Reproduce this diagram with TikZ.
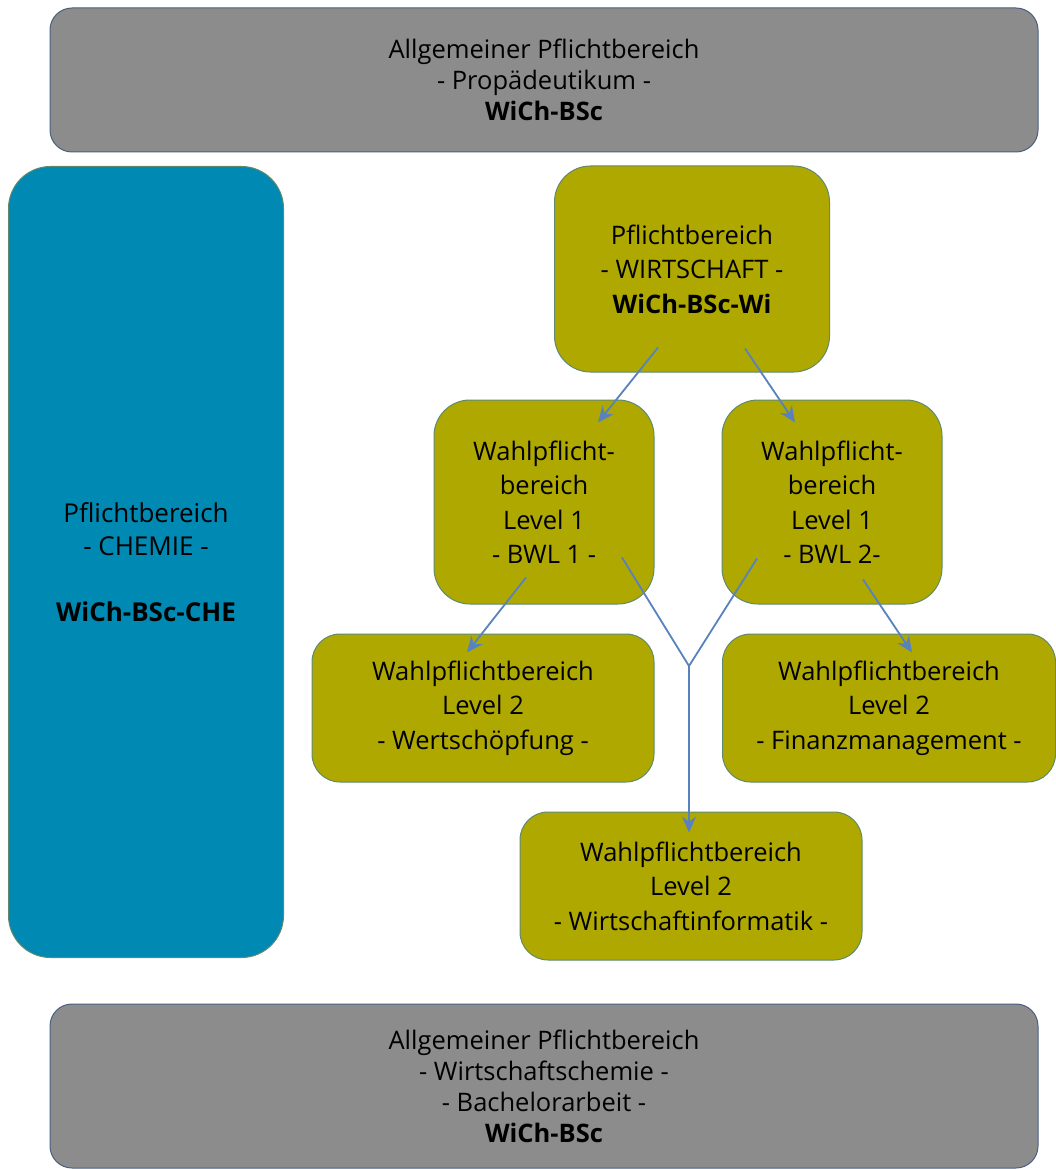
\documentclass[tikz,border=0pt]{standalone}
\usepackage{fontspec}
\setmainfont{Open Sans}
\usetikzlibrary{arrows.meta}

\definecolor{boxgray}{RGB}{140,140,140}
\definecolor{grayline}{RGB}{74,96,128}
\definecolor{chemblue}{RGB}{0,137,178}
\definecolor{wiolive}{RGB}{174,168,0}
\definecolor{oliveline}{RGB}{96,138,110}
\definecolor{arrblue}{RGB}{88,130,190}

\tikzset{
  graybox/.style={draw=grayline, fill=boxgray, line width=1pt, rounded corners=22pt, align=center, font=\fontsize{25.5}{31}\selectfont},
  chembox/.style={draw=oliveline, fill=chemblue, line width=1pt, rounded corners=42pt, align=center, font=\fontsize{26}{33}\selectfont},
  wibox/.style={draw=oliveline, fill=wiolive, line width=1pt, rounded corners=36pt, align=center, font=\fontsize{25.5}{34.5}\selectfont},
  arr/.style={draw=arrblue, line width=1.8pt, -{Stealth[length=16pt, width=14pt]}}
}

\begin{document}
\begin{tikzpicture}[x=1pt, y=-1pt, every node/.style={inner sep=0pt}]
            \useasboundingbox (0,0) rectangle (1056,1169);

            % Allgemeine Bereiche
            \node[graybox, minimum width=988pt, minimum height=144pt] (prop) at (544, 80) {Allgemeiner Pflichtbereich\\- Propädeutikum -\\\textbf{WiCh-BSc}};
            \node[graybox, minimum width=988pt, minimum height=164pt] (bach) at (544, 1086) {Allgemeiner Pflichtbereich\\- Wirtschaftschemie -\\- Bachelorarbeit -\\\textbf{WiCh-BSc}};

            % Chemie
            \node[chembox, minimum width=275pt, minimum height=791pt] (chem) at (146, 562) {Pflichtbereich\\- CHEMIE -\\[33pt]\textbf{WiCh-BSc-CHE}};

            % Wirtschaft
            \node[wibox, minimum width=275pt, minimum height=206pt] (wi) at (692, 269) {Pflichtbereich\\- WIRTSCHAFT -\\\textbf{WiCh-BSc-Wi}};
            \node[wibox, minimum width=220pt, minimum height=204pt] (bwl1) at (544, 502) {Wahlpflicht-\\bereich\\Level 1\\- BWL 1 -};
            \node[wibox, minimum width=220pt, minimum height=204pt] (bwl2) at (832, 502) {Wahlpflicht-\\bereich\\Level 1\\- BWL 2-};
            \node[wibox, rounded corners=28pt, minimum width=342pt, minimum height=148pt] (wert) at (483, 708) {Wahlpflichtbereich\\Level 2\\- Wertschöpfung -};
            \node[wibox, rounded corners=28pt, minimum width=333pt, minimum height=148pt] (fin) at (889, 708) {Wahlpflichtbereich\\Level 2\\- Finanzmanagement -};
            \node[wibox, rounded corners=28pt, minimum width=342pt, minimum height=148pt] (info) at (691, 886) {Wahlpflichtbereich\\Level 2\\- Wirtschaftinformatik -};

            % Pfeile
            \draw[arr] ([shift={(-34,-25)}]wi.south) -- ([shift={(54,23)}]bwl1.north);
            \draw[arr] ([shift={(53,-24)}]wi.south) -- ([shift={(-37,23)}]bwl2.north);
            \draw[arr] ([shift={(-18,-27)}]bwl1.south) -- ([shift={(-16,19)}]wert.north);
            \draw[arr] ([shift={(31,-25)}]bwl2.south) -- ([shift={(23,19)}]fin.north);

            \coordinate (join) at (689, 666);
            \draw[arrblue, line width=1.8pt] ([shift={(-75,-46)}]bwl2.south) -- (join);
            \draw[arr] ([shift={(78,-47)}]bwl1.south) -- (join) -- ([shift={(-2,21)}]info.north);
        \end{tikzpicture}
\end{document}
